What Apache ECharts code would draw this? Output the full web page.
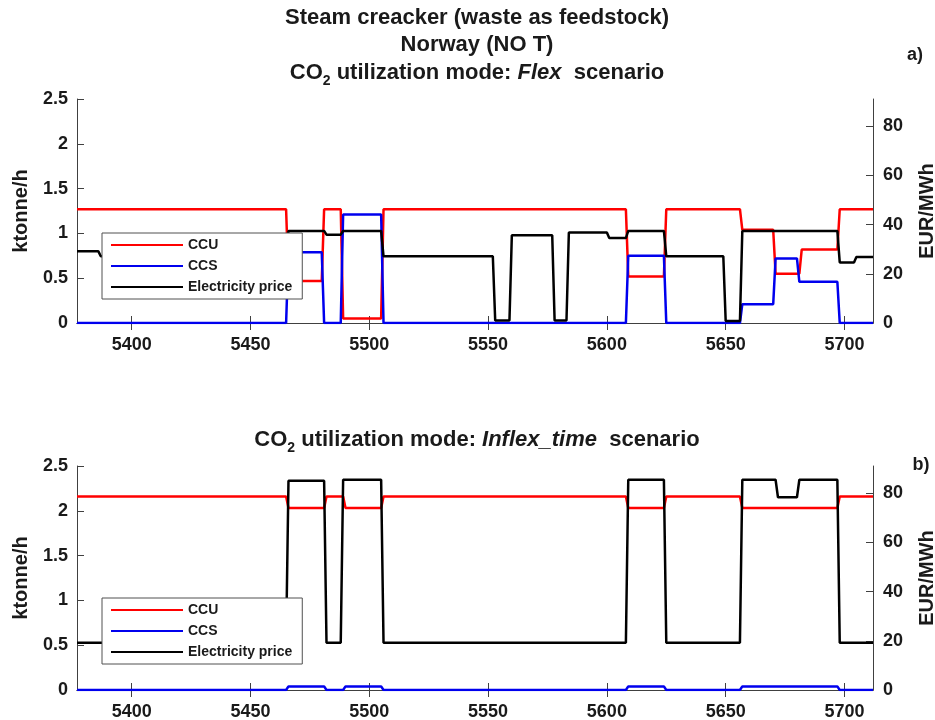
<!DOCTYPE html>
<html lang="en">
<head>
    <meta charset="utf-8">
    <title>Steam cracker CO2 utilization</title>
    <script src="https://cdn.jsdelivr.net/npm/echarts@6/dist/echarts.min.js"></script>
</head>
<body style="margin:0;background:#fff">
<div id="main" style="width: 935px;height:720px;"></div>
<script type="text/javascript">
    // x axis: hour of year
    var xTicks = [5400, 5450, 5500, 5550, 5600, 5650, 5700];
    var leftTicks = [0, 0.5, 1, 1.5, 2, 2.5];
    var rightTicks = [0, 20, 40, 60, 80];

    // a) Flex scenario  [hour, ktonne/h] and [hour, EUR/MWh]
    var flexCcu = [[5377,1.27],[5465,1.27],[5466,0.47],[5480,0.47],[5481,1.27],[5488,1.27],[5489,0.05],[5505,0.05],
        [5506,1.27],[5608,1.27],[5609,0.52],[5624,0.52],[5625,1.27],[5656,1.27],[5657,1.04],[5670,1.04],
        [5671,0.55],[5681,0.55],[5682,0.82],[5697,0.82],[5698,1.27],[5712,1.27]];
    var flexCcs = [[5377,0],[5465,0],[5466,0.79],[5480,0.79],[5481,0],[5488,0],[5489,1.21],[5505,1.21],
        [5506,0],[5608,0],[5609,0.75],[5624,0.75],[5625,0],[5656,0],[5657,0.21],[5670,0.21],
        [5671,0.72],[5680,0.72],[5681,0.46],[5697,0.46],[5698,0],[5712,0]];
    var flexPrice = [[5377,29.1],[5386,29.1],[5387,27.1],[5465,27.1],[5466,37.4],[5481,37.4],[5482,35.9],[5488,35.9],
        [5489,37.4],[5505,37.4],[5506,27.1],[5552,27.1],[5553,1],[5559,1],[5560,35.6],[5577,35.6],
        [5578,1],[5583,1],[5584,36.8],[5600,36.8],[5601,34.5],[5608,34.5],[5609,37.4],[5624,37.4],
        [5625,27.1],[5649,27.1],[5650,0.8],[5656,0.8],[5657,37.4],[5697,37.4],[5698,24.6],[5704,24.6],
        [5705,26.8],[5712,26.8]];

    // b) Inflex_time scenario
    var inflexCcu = [[5377,2.16],[5465,2.16],[5466,2.03],[5481,2.03],[5482,2.16],[5489,2.16],[5490,2.03],[5505,2.03],
        [5506,2.16],[5608,2.16],[5609,2.03],[5624,2.03],[5625,2.16],[5656,2.16],[5657,2.03],[5697,2.03],
        [5698,2.16],[5712,2.16]];
    var inflexCcs = [[5377,0],[5465,0],[5466,0.04],[5481,0.04],[5482,0],[5489,0],[5490,0.04],[5505,0.04],
        [5506,0],[5608,0],[5609,0.04],[5624,0.04],[5625,0],[5656,0],[5657,0.04],[5697,0.04],
        [5698,0],[5712,0]];
    var inflexPrice = [[5377,19.2],[5465,19.2],[5466,85],[5481,85],[5482,19.2],[5488,19.2],[5489,85.4],[5505,85.4],
        [5506,19.2],[5608,19.2],[5609,85.4],[5624,85.4],[5625,19.2],[5656,19.2],[5657,85.4],[5671,85.4],
        [5672,78.3],[5680,78.3],[5681,85.4],[5697,85.4],[5698,19.2],[5712,19.2]];

    var FONT = 'Liberation Sans, Arial, sans-serif';
    var axisColor = '#404040';
    var textColor = '#1a1a1a';

    function xAxisFor(grid, pos) {
        return {
            type: 'value', gridIndex: grid, position: pos, min: 5377, max: 5712,
            axisLine: {show: true, lineStyle: {color: axisColor, width: 1}},
            axisTick: {show: true, inside: true, length: 7, customValues: xTicks, lineStyle: {color: axisColor}},
            axisLabel: {show: pos === 'bottom', customValues: xTicks, margin: 13, color: textColor,
                fontFamily: FONT, fontWeight: 'bold', fontSize: 18,
                formatter: function (v) { return String(v); }},
            splitLine: {show: false}
        };
    }
    function yLeft(grid) {
        return {
            type: 'value', gridIndex: grid, position: 'left', min: 0, max: 2.5,
            name: 'ktonne/h', nameLocation: 'middle', nameGap: 46, nameRotate: 90,
            nameTextStyle: {fontFamily: FONT, fontWeight: 'bold', fontSize: 20, color: textColor},
            axisLine: {show: true, lineStyle: {color: axisColor}},
            axisTick: {show: true, inside: true, length: 7, customValues: leftTicks, lineStyle: {color: axisColor}},
            axisLabel: {customValues: leftTicks, margin: 9, color: textColor, fontFamily: FONT, fontWeight: 'bold', fontSize: 18},
            splitLine: {show: false}
        };
    }
    function yRight(grid) {
        return {
            type: 'value', gridIndex: grid, position: 'right', min: 0, max: 91,
            name: 'EUR/MWh', nameLocation: 'middle', nameGap: 44, nameRotate: 90,
            nameTextStyle: {fontFamily: FONT, fontWeight: 'bold', fontSize: 20, color: textColor},
            axisLine: {show: true, lineStyle: {color: axisColor}},
            axisTick: {show: true, inside: true, length: 7, customValues: rightTicks, lineStyle: {color: axisColor}},
            axisLabel: {customValues: rightTicks, margin: 10, color: textColor, fontFamily: FONT, fontWeight: 'bold', fontSize: 18},
            splitLine: {show: false}
        };
    }
    function line(name, color, xi, yi, data) {
        return {
            name: name, type: 'line', xAxisIndex: xi, yAxisIndex: yi, data: data,
            symbol: 'none', animation: false, lineStyle: {color: color, width: 2.5}, itemStyle: {color: color}
        };
    }
    function legendAt(top) {
        return {
            orient: 'vertical', left: 102, top: top, data: ['CCU', 'CCS', 'Electricity price'],
            itemWidth: 72, itemHeight: 14, itemGap: 7, padding: [5, 10, 5, 8],
            backgroundColor: '#fff', borderColor: '#505050', borderWidth: 1, borderRadius: 0,
            selectedMode: false,
            itemStyle: {opacity: 0},
            textStyle: {fontFamily: FONT, fontWeight: 'bold', fontSize: 14, color: textColor}
        };
    }
    var rich = {
        b: {fontFamily: FONT, fontWeight: 'bold', fontSize: 22, lineHeight: 30, fill: textColor},
        i: {fontFamily: FONT, fontWeight: 'bold', fontStyle: 'italic', fontSize: 22, lineHeight: 30, fill: textColor},
        s: {fontFamily: FONT, fontWeight: 'bold', fontSize: 14, lineHeight: 12, verticalAlign: 'bottom', fill: textColor}
    };
    function title(x, y, text) {
        return {type: 'text', x: x, y: y, z: 10,
            style: {text: text, rich: rich, align: 'center', verticalAlign: 'middle',
                font: 'bold 22px ' + FONT, fill: textColor}};
    }

    var myChart = echarts.init(document.getElementById('main'));
    var option = {
        backgroundColor: '#fff',
        animation: false,
        grid: [
            {left: 77, top: 99, width: 796, height: 224, outerBoundsMode: 'none', containLabel: false},
            {left: 77, top: 466, width: 796, height: 224, outerBoundsMode: 'none', containLabel: false}
        ],
        xAxis: [xAxisFor(0, 'bottom'), xAxisFor(0, 'top'), xAxisFor(1, 'bottom'), xAxisFor(1, 'top')],
        yAxis: [yLeft(0), yRight(0), yLeft(1), yRight(1)],
        legend: [legendAt(233), legendAt(598)],
        graphic: [
            title(477, 18, '{b|Steam creacker (waste as feedstock)}'),
            title(477, 45, '{b|Norway (NO T)}'),
            title(477, 73, '{b|CO}{s|2}{b| utilization mode: }{i|Flex}{b|  scenario}'),
            title(477, 440, '{b|CO}{s|2}{b| utilization mode: }{i|Inflex_time}{b|  scenario}'),
            {type: 'text', x: 915, y: 55, style: {text: 'a)', font: 'bold 18px ' + FONT, fill: textColor, align: 'center', verticalAlign: 'middle'}},
            {type: 'text', x: 921, y: 465, style: {text: 'b)', font: 'bold 18px ' + FONT, fill: textColor, align: 'center', verticalAlign: 'middle'}}
        ],
        series: [
            line('CCU', '#ff0000', 0, 0, flexCcu),
            line('CCS', '#0000ee', 0, 0, flexCcs),
            line('Electricity price', '#000000', 0, 1, flexPrice),
            line('CCU', '#ff0000', 2, 2, inflexCcu),
            line('CCS', '#0000ee', 2, 2, inflexCcs),
            line('Electricity price', '#000000', 2, 3, inflexPrice)
        ]
    };

    myChart.setOption(option);
</script>
</body>
</html>
